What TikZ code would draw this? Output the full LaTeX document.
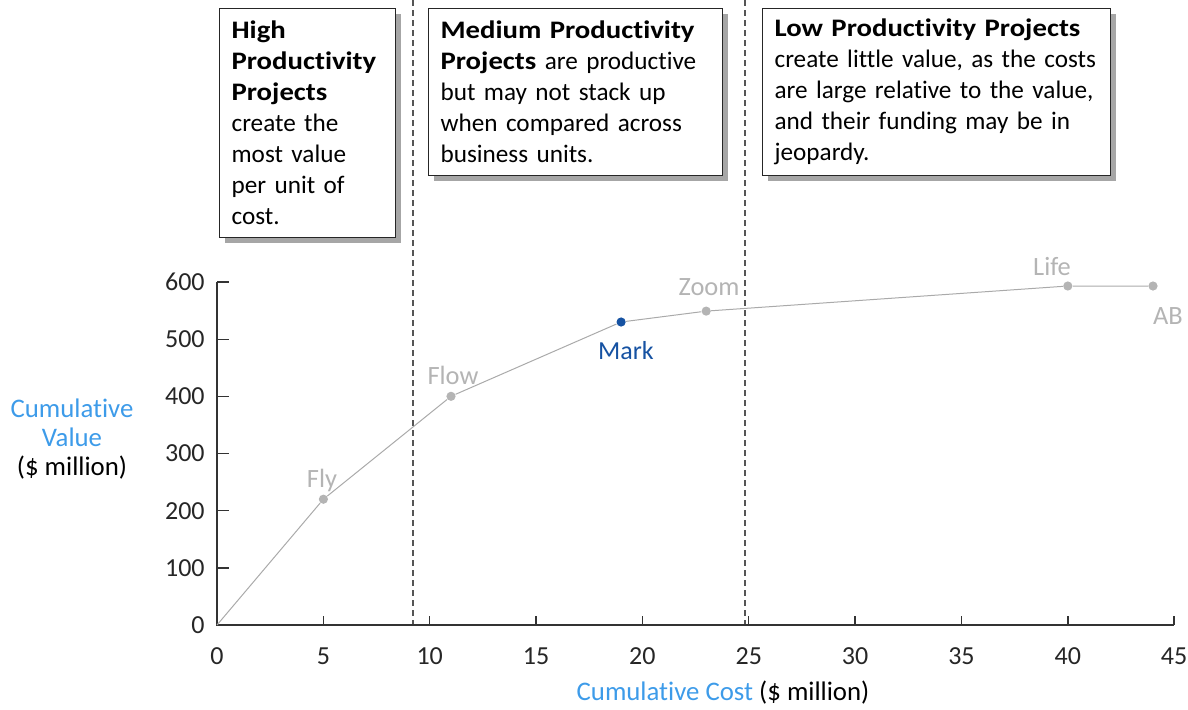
\documentclass[tikz,border=0pt]{standalone}
\usepackage{fontspec}
\setmainfont{Carlito}[Ligatures={NoCommon}, BoldFeatures={FakeStretch=1.14}]
\usetikzlibrary{shadows}
\definecolor{ptgray}{HTML}{B4B4B4}
\definecolor{linegray}{HTML}{AAAAAA}
\definecolor{lblue}{HTML}{3D9BE9}
\definecolor{mblue}{HTML}{1652A2}
\definecolor{axisc}{HTML}{333333}
\definecolor{dashc}{HTML}{555555}
\begin{document}
\begin{tikzpicture}[x=0.5pt,y=-0.5pt,
  infobox/.style={draw=black!85, line width=0.6pt, fill=white, anchor=north west,
    align=left, inner xsep=6pt, inner ysep=0pt, font=\fontsize{12.6}{15.5}\selectfont,
    drop shadow={shadow xshift=2.5pt, shadow yshift=-2.5pt, fill=black!35, opacity=1}},
  divider/.style={dashc, line width=0.6pt, dash pattern=on 3pt off 2pt},
  axisline/.style={axisc, line width=1pt},
  tickline/.style={axisc, line width=0.7pt},
  ticklab/.style={font=\fontsize{13}{15}\selectfont, text=black!85, inner sep=0pt},
  ptdot/.style={circle, fill=ptgray, inner sep=0pt, minimum size=4.6pt},
  markdot/.style={circle, fill=mblue, inner sep=0pt, minimum size=4.6pt},
  curve/.style={linegray, line width=0.5pt},
  ptlab/.style={font=\fontsize{13.2}{15}\selectfont, text=ptgray, inner sep=0pt},
  marklab/.style={font=\fontsize{13}{15}\selectfont, text=mblue, inner sep=0pt},
  axtitle/.style={font=\fontsize{13.4}{14.5}\selectfont, inner sep=0pt, align=center}
]
\useasboundingbox (0,0) rectangle (1188,709);

% dividers
\coordinate (d1t) at (413,0);
\coordinate (d1b) at (413,625);
\coordinate (d2t) at (745,0);
\coordinate (d2b) at (745,625);
\draw[divider] (d1t) -- (d1b);
\draw[divider] (d2t) -- (d2b);

% info boxes
\node[infobox, text width=76pt, minimum height=114.5pt] (box1) at (219,8)
  {\textbf{High}\\\textbf{Productivity}\\\textbf{Projects}\\create the\\most value\\per unit of\\cost.};
\node[infobox, text width=135pt, minimum height=83.5pt] (box2) at (428,8)
  {\textbf{Medium Productivity}\\\textbf{Projects} are productive\\but may not stack up\\when compared across\\business units.};
\node[infobox, text width=162pt, minimum height=83.5pt] (box3) at (762,8)
  {\textbf{Low Productivity Projects}\\create little value, as the costs\\are large relative to the value,\\and their funding may be in\\jeopardy.};

% axes
\coordinate (ytop) at (217,282);
\coordinate (orig) at (217,625);
\coordinate (xend) at (1174,625);
\draw[axisline] (ytop) -- (orig) -- (xend);

% y ticks
\foreach \v/\y in {100/567.8,200/510.7,300/453.5,400/396.3,500/339.2,600/282} {
  \draw[tickline] (217,\y) -- (229,\y);
}
\foreach \v/\y in {0/625,100/567.8,200/510.7,300/453.5,400/396.3,500/339.2,600/282} {
  \node[ticklab, anchor=east] (yl\v) at (205,\y) {\v};
}
% x ticks
\foreach \v in {5,10,...,45} {
  \draw[tickline] ({217+21.27*\v},625) -- ({217+21.27*\v},616);
}
\foreach \v in {0,5,...,45} {
  \node[ticklab] (xl\v) at ({217+21.27*\v},656) {\v};
}

% data points
\node[ptdot] (fly) at (323.4,499.2) {};
\node[ptdot] (flow) at (451,396.3) {};
\node[markdot] (mark) at (621.1,322) {};
\node[ptdot] (zoom) at (706.2,311.1) {};
\node[ptdot] (life) at (1067.8,286) {};
\node[ptdot] (ab) at (1153,286) {};
\draw[curve] (orig) -- (fly) -- (flow) -- (mark) -- (zoom) -- (life) -- (ab);

% point labels
\node[ptlab] (flyl) at (322,480) {Fly};
\node[ptlab] (flowl) at (453,375) {Flow};
\node[marklab] (markl) at (626,351) {Mark};
\node[ptlab] (zooml) at (709,287) {Zoom};
\node[ptlab] (lifel) at (1052,266) {Life};
\node[ptlab] (abl) at (1168,316) {AB};

% axis titles
\node[axtitle] (ytitle) at (72,439) {{\color{lblue}Cumulative}\\{\color{lblue}Value}\\(\$ million)};
\node[axtitle] (xtitle) at (723,693) {{\color{lblue}Cumulative Cost} (\$ million)};
\end{tikzpicture}
\end{document}
